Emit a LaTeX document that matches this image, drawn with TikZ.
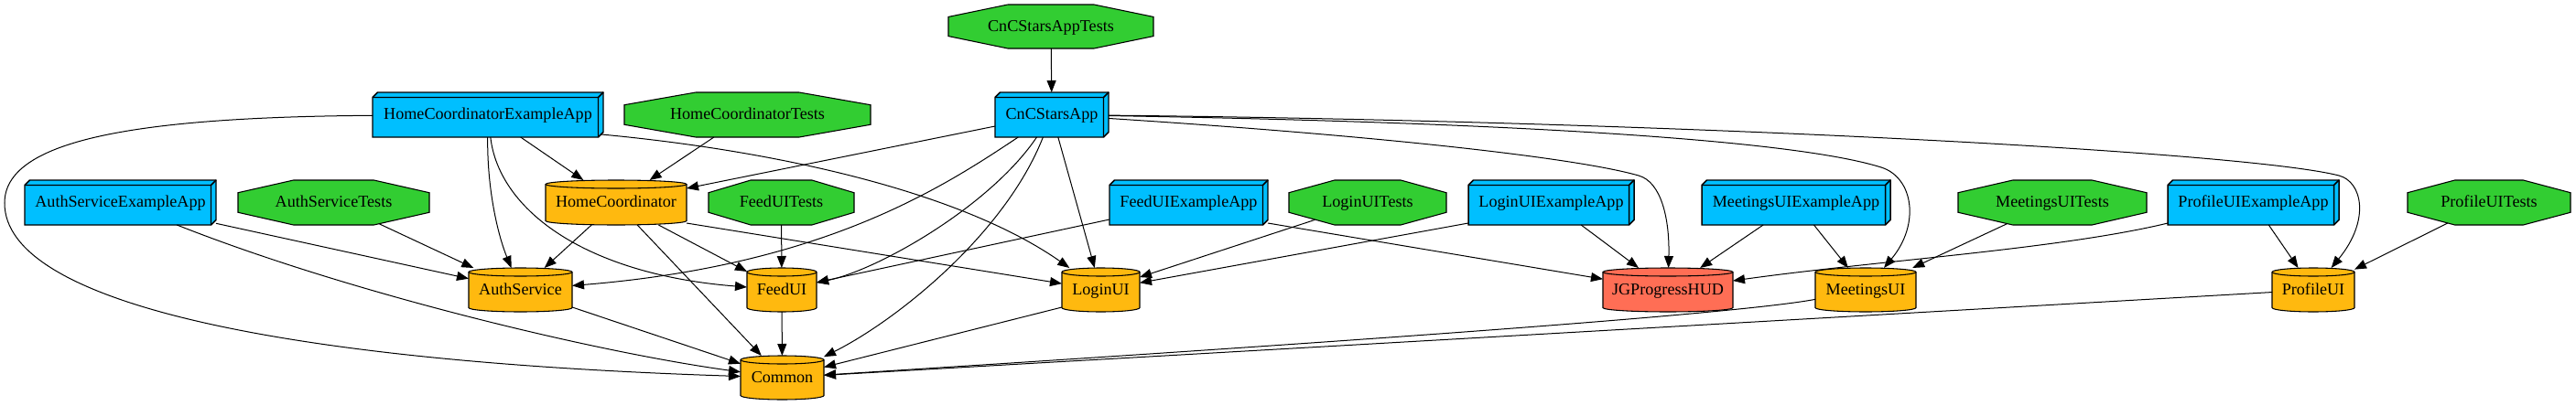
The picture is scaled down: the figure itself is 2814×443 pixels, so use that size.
\documentclass[tikz,border=0pt]{standalone}
\usepackage{fontspec}
\setmainfont{Liberation Serif}
\usetikzlibrary{arrows.meta}
\definecolor{appblue}{HTML}{00BFFF}
\definecolor{octgreen}{HTML}{32CD32}
\definecolor{cylorange}{HTML}{FFB90F}
\definecolor{jgred}{HTML}{FF6E55}
\tikzset{
  lbl/.style={inner sep=0pt, outer sep=0pt, font=\fontsize{13.6}{16}\selectfont, text height=10pt, text depth=2.5pt},
  appshape/.style={draw=black, fill=appblue, line width=1.1pt, line join=miter},
  octshape/.style={draw=black, fill=octgreen, line width=0.8pt},
  cylshape/.style={draw=black, line width=0.8pt},
  edge/.style={draw=black, line width=0.75pt, -{Triangle[length=9.75pt,width=7.5pt]}},
}
% name, L, R, T, B, text
\newcommand\appnode[6]{%
  \filldraw[appshape] (#2,{#4+5.5}) -- ({#2+5.5},#4) -- (#3,#4) -- (#3,{#5-5.5}) -- ({#3-5.5},#5) -- (#2,#5) -- cycle;
  \draw[appshape, fill=none] (#2,{#4+5.5}) -- ({#3-5.5},{#4+5.5}) -- ({#3-5.5},#5) ({#3-5.5},{#4+5.5}) -- (#3,#4);
  \node[lbl, minimum width={(#3-#2)*0.75pt}, minimum height={(#5-#4)*0.75pt}] (#1) at ({(#2+#3)/2},{(#4+#5)/2}) {#6};}
\newcommand\octnode[6]{%
  \filldraw[octshape] (#2,{#4+0.28*(#5-#4)}) -- ({#2+0.29*(#3-#2)},#4) -- ({#3-0.29*(#3-#2)},#4) -- (#3,{#4+0.28*(#5-#4)}) -- (#3,{#5-0.28*(#5-#4)}) -- ({#3-0.29*(#3-#2)},#5) -- ({#2+0.29*(#3-#2)},#5) -- (#2,{#5-0.28*(#5-#4)}) -- cycle;
  \node[lbl, minimum width={(#3-#2)*0.75pt}, minimum height={(#5-#4)*0.75pt}] (#1) at ({(#2+#3)/2},{(#4+#5)/2}) {#6};}
% name, L, R, T, B, text, fill
\newcommand\cylnode[7]{%
  \filldraw[cylshape, fill=#7] (#2,{#4+4.5}) -- (#2,{#5-4.5}) arc[start angle=180, end angle=360, x radius={(#3-#2)*0.375pt}, y radius=3.375pt] -- (#3,{#4+4.5}) arc[start angle=0, end angle=180, x radius={(#3-#2)*0.375pt}, y radius=3.375pt] -- cycle;
  \draw[cylshape] (#2,{#4+4.5}) arc[start angle=180, end angle=360, x radius={(#3-#2)*0.375pt}, y radius=3.375pt];
  \node[lbl, minimum width={(#3-#2)*0.75pt}, minimum height={(#5-#4)*0.75pt}] (#1) at ({(#2+#3)/2},{(#4+#5)/2}) {#6};}
\begin{document}
\begin{tikzpicture}[x=0.75pt, y=-0.75pt]
\useasboundingbox (0,0) rectangle (2814,443);
% row 1
\octnode{cncat}{1036}{1260}{5}{53}{CnCStarsAppTests}
% row 2
\appnode{hcea}{407}{659}{101}{150}{HomeCoordinatorExampleApp}
\octnode{hct}{682}{951}{101}{150}{HomeCoordinatorTests}
\appnode{cnc}{1087}{1211}{101}{150}{CnCStarsApp}
% row 3
\appnode{asea}{27}{236}{197}{246}{AuthServiceExampleApp}
\octnode{ast}{260}{469}{197}{246}{AuthServiceTests}
\cylnode{hc}{596}{750}{197}{246}{HomeCoordinator}{cylorange}
\octnode{fut}{774}{933}{197}{246}{FeedUITests}
\appnode{fuea}{1212}{1385}{197}{246}{FeedUIExampleApp}
\octnode{lut}{1408}{1580}{197}{246}{LoginUITests}
\appnode{luea}{1604}{1785}{197}{246}{LoginUIExampleApp}
\appnode{muea}{1859}{2065}{197}{246}{MeetingsUIExampleApp}
\octnode{mut}{2139}{2345}{197}{246}{MeetingsUITests}
\appnode{puea}{2368}{2555}{197}{246}{ProfileUIExampleApp}
\octnode{put}{2630}{2808}{197}{246}{ProfileUITests}
% row 4
\cylnode{as}{512}{625}{293}{341}{AuthService}{cylorange}
\cylnode{feedui}{816}{892}{293}{341}{FeedUI}{cylorange}
\cylnode{loginui}{1160}{1245}{293}{341}{LoginUI}{cylorange}
\cylnode{jg}{1751}{1893}{293}{341}{JGProgressHUD}{jgred}
\cylnode{mui}{1983}{2093}{293}{341}{MeetingsUI}{cylorange}
\cylnode{pui}{2482}{2572}{293}{341}{ProfileUI}{cylorange}
% row 5
\cylnode{common}{809}{900}{389}{437}{Common}{cylorange}
% straight edges
\draw[edge] (cncat) -- (cnc);
\draw[edge] (hcea) -- (hc);
\draw[edge] (hct) -- (hc);
\draw[edge] (cnc) -- (hc);
\draw[edge] (hc) -- (as);
\draw[edge] (hc) -- (feedui);
\draw[edge] (hc) -- (common);
\draw[edge] ([yshift=1.5pt]hc.south east) -- (loginui);
\draw[edge] (asea) -- (as);
\draw[edge, shorten <=-2pt] (ast) -- (as);
\draw[edge] (fut) -- (feedui);
\draw[edge] (fuea) -- (feedui);
\draw[edge] ([yshift=1.5pt]fuea.south east) -- (jg);
\draw[edge, shorten <=-13.5pt] (lut) -- (loginui);
\draw[edge] ([yshift=1.5pt]luea.south west) -- (loginui);
\draw[edge] (luea) -- (jg);
\draw[edge] (cnc) -- (loginui);
\draw[edge] (muea) -- (jg);
\draw[edge] (muea) -- (mui);
\draw[edge, shorten <=-2.4pt] (mut) -- (mui);
\draw[edge] (puea) -- (pui);
\draw[edge, shorten <=-3.4pt] (put) -- (pui);
\draw[edge] (as) -- (common);
\draw[edge] (feedui) -- (common);
\draw[edge] ([yshift=3.75pt]loginui.south west) -- (common);
\draw[edge] (pui) -- (common);
% curved edges
\draw[edge] (hcea) .. controls (140,128) and (5,155) .. (5,222) .. controls (5,330) and (300,395) .. (common);
\draw[edge] (asea) .. controls (380,320) and (650,385) .. (common);
\draw[edge] (hcea) .. controls (532,210) and (545,260) .. (as);
\draw[edge] (hcea) .. controls (545,230) and (640,300) .. (feedui);
\draw[edge] ([xshift=-1.5pt,yshift=2.25pt]hcea.south east) .. controls (850,165) and (1050,210) .. (loginui);
\draw[edge] (cnc) .. controls (1029,205.5) and (900,290) .. (as);
\draw[edge] (cnc) .. controls (1082,225) and (960,295) .. (feedui);
\draw[edge] (cnc) .. controls (1098,255.5) and (980,350) .. (common);
\draw[edge] (cnc) .. controls (1500,148) and (1720,172) .. (1790,192) .. controls (1815,199) and (1824,240) .. (jg);
\draw[edge] (cnc) .. controls (1600,133) and (1950,150) .. (2055,183) .. controls (2090,194) and (2098,245) .. (mui);
\draw[edge] (cnc) .. controls (1800,132) and (2450,165) .. (2555,192) .. controls (2580,198.4) and (2590,240) .. (pui);
\draw[edge] (puea) .. controls (2250,272.5) and (2050,285) .. (jg);
\draw[edge] (mui) .. controls (1900,343) and (1500,372) .. (common);
\end{tikzpicture}
\end{document}
